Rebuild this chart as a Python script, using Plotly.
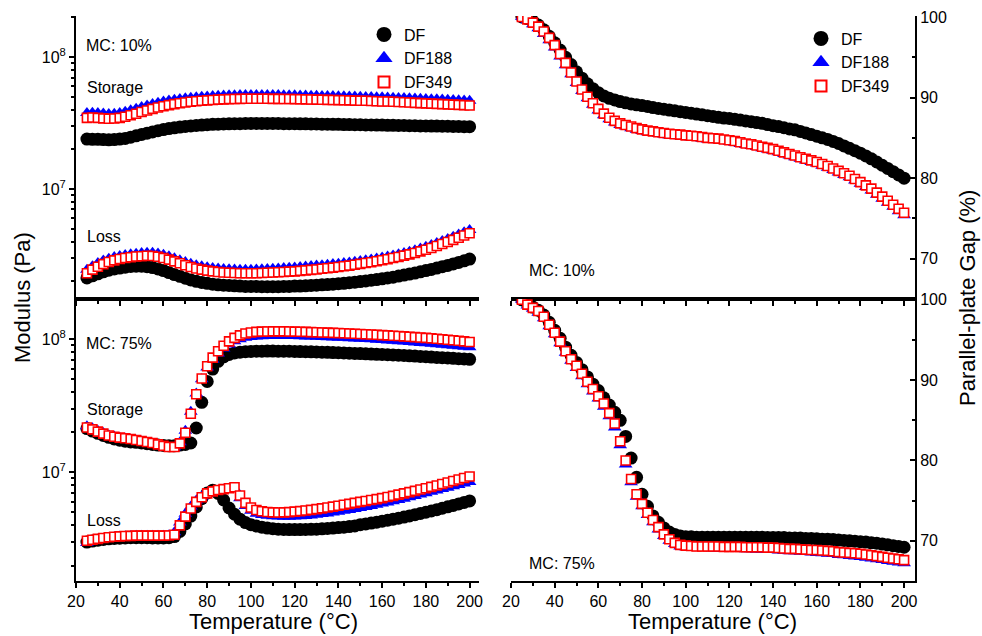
import plotly.graph_objects as go

# ---------------- data ----------------
temperature = [25, 27.5, 30, 32.5, 35, 37.5, 40, 42.5, 45, 47.5,
               50, 52.5, 55, 57.5, 60, 62.5, 65, 67.5, 70, 72.5,
               75, 77.5, 80, 82.5, 85, 87.5, 90, 92.5, 95, 97.5,
               100, 102.5, 105, 107.5, 110, 112.5, 115, 117.5, 120, 122.5,
               125, 127.5, 130, 132.5, 135, 137.5, 140, 142.5, 145, 147.5,
               150, 152.5, 155, 157.5, 160, 162.5, 165, 167.5, 170, 172.5,
               175, 177.5, 180, 182.5, 185, 187.5, 190, 192.5, 195, 197.5,
               200]

series_names = ["DF", "DF188", "DF349"]

# MC 10 %: storage modulus (MPa)
mc10_storage_df = [23.9, 23.8, 23.8, 23.7, 23.6, 23.7, 23.9, 24.2, 24.7, 25.3,
                   25.9, 26.5, 27.1, 27.7, 28.2, 28.7, 29.1, 29.5, 29.8, 30.1,
                   30.3, 30.5, 30.7, 30.9, 31.0, 31.1, 31.2, 31.3, 31.3, 31.4,
                   31.4, 31.4, 31.4, 31.4, 31.4, 31.4, 31.3, 31.3, 31.3, 31.2,
                   31.2, 31.1, 31.1, 31.0, 31.0, 30.9, 30.9, 30.8, 30.8, 30.7,
                   30.7, 30.6, 30.6, 30.5, 30.5, 30.4, 30.4, 30.3, 30.3, 30.2,
                   30.2, 30.1, 30.1, 30.0, 30.0, 29.9, 29.9, 29.8, 29.8, 29.7,
                   29.7]
mc10_storage_df188 = [37.6, 37.8, 37.6, 37.3, 37.1, 37.2, 37.7, 38.5, 39.5, 40.6,
                      41.8, 43.0, 44.1, 45.1, 46.0, 46.8, 47.5, 48.1, 48.7, 49.2,
                      49.6, 50.0, 50.3, 50.6, 50.9, 51.1, 51.3, 51.4, 51.5, 51.6,
                      51.6, 51.6, 51.6, 51.6, 51.5, 51.5, 51.4, 51.4, 51.3, 51.2,
                      51.1, 51.0, 50.9, 50.8, 50.7, 50.6, 50.5, 50.4, 50.3, 50.2,
                      50.0, 49.9, 49.8, 49.6, 49.5, 49.3, 49.2, 49.0, 48.9, 48.7,
                      48.5, 48.4, 48.2, 48.0, 47.8, 47.6, 47.4, 47.2, 47.0, 46.8,
                      46.6]
mc10_storage_df349 = [34.6, 34.8, 34.6, 34.3, 34.1, 34.2, 34.6, 35.3, 36.2, 37.2,
                      38.3, 39.4, 40.5, 41.5, 42.4, 43.2, 44.0, 44.7, 45.3, 45.8,
                      46.3, 46.7, 47.0, 47.3, 47.6, 47.8, 48.0, 48.1, 48.2, 48.3,
                      48.3, 48.3, 48.3, 48.3, 48.2, 48.2, 48.1, 48.1, 48.0, 47.9,
                      47.8, 47.7, 47.6, 47.5, 47.4, 47.3, 47.2, 47.1, 47.0, 46.8,
                      46.7, 46.6, 46.4, 46.3, 46.1, 46.0, 45.8, 45.6, 45.4, 45.2,
                      45.0, 44.8, 44.6, 44.4, 44.2, 44.0, 43.8, 43.6, 43.4, 43.2,
                      43.0]

# MC 10 %: loss modulus (MPa)
mc10_loss_df = [2.12, 2.20, 2.28, 2.36, 2.43, 2.48, 2.52, 2.56, 2.59, 2.60,
                2.60, 2.58, 2.54, 2.48, 2.41, 2.33, 2.25, 2.18, 2.11, 2.05,
                2.00, 1.96, 1.93, 1.90, 1.88, 1.87, 1.86, 1.85, 1.84, 1.83,
                1.83, 1.83, 1.82, 1.82, 1.82, 1.82, 1.83, 1.83, 1.84, 1.84,
                1.85, 1.86, 1.87, 1.88, 1.89, 1.90, 1.92, 1.93, 1.95, 1.97,
                1.99, 2.01, 2.04, 2.06, 2.09, 2.12, 2.15, 2.19, 2.23, 2.27,
                2.31, 2.36, 2.41, 2.46, 2.52, 2.58, 2.64, 2.71, 2.78, 2.86,
                2.95]
mc10_loss_df188 = [2.45, 2.60, 2.75, 2.87, 2.97, 3.05, 3.11, 3.16, 3.20, 3.24,
                   3.27, 3.29, 3.29, 3.25, 3.18, 3.09, 2.99, 2.89, 2.80, 2.72,
                   2.65, 2.60, 2.56, 2.52, 2.50, 2.48, 2.47, 2.46, 2.45, 2.45,
                   2.45, 2.46, 2.47, 2.48, 2.49, 2.50, 2.52, 2.53, 2.55, 2.57,
                   2.59, 2.61, 2.63, 2.65, 2.67, 2.70, 2.72, 2.75, 2.78, 2.81,
                   2.85, 2.89, 2.93, 2.98, 3.03, 3.08, 3.14, 3.20, 3.27, 3.35,
                   3.44, 3.54, 3.65, 3.77, 3.90, 4.04, 4.19, 4.35, 4.52, 4.70,
                   4.90]
mc10_loss_df349 = [2.30, 2.45, 2.58, 2.70, 2.80, 2.88, 2.95, 3.00, 3.04, 3.08,
                   3.10, 3.12, 3.11, 3.07, 3.00, 2.92, 2.83, 2.74, 2.65, 2.57,
                   2.50, 2.45, 2.41, 2.38, 2.35, 2.33, 2.32, 2.31, 2.30, 2.30,
                   2.30, 2.30, 2.31, 2.32, 2.33, 2.34, 2.35, 2.37, 2.38, 2.40,
                   2.42, 2.44, 2.46, 2.49, 2.51, 2.54, 2.57, 2.60, 2.63, 2.67,
                   2.71, 2.75, 2.79, 2.84, 2.89, 2.94, 3.00, 3.06, 3.13, 3.20,
                   3.28, 3.37, 3.47, 3.58, 3.70, 3.83, 3.97, 4.12, 4.28, 4.45,
                   4.63]

# MC 75 %: storage modulus (MPa)
mc75_storage_df = [21.3, 20.4, 19.6, 18.9, 18.3, 17.8, 17.4, 17.1, 16.9, 16.8,
                   16.6, 16.4, 16.2, 16.0, 15.9, 15.8, 15.8, 16.0, 16.2, 16.6,
                   21.5, 33.5, 48.0, 59.5, 68.0, 73.5, 76.5, 78.5, 79.6, 80.3,
                   80.7, 81.0, 81.1, 81.2, 81.2, 81.1, 81.0, 80.9, 80.7, 80.5,
                   80.3, 80.1, 79.9, 79.6, 79.4, 79.1, 78.9, 78.6, 78.3, 78.0,
                   77.7, 77.4, 77.1, 76.8, 76.5, 76.2, 75.9, 75.5, 75.2, 74.8,
                   74.4, 74.0, 73.6, 73.2, 72.8, 72.4, 72.0, 71.6, 71.2, 70.8,
                   70.4]
mc75_storage_df188 = [22.2, 21.4, 20.5, 19.7, 19.0, 18.6, 18.2, 17.9, 17.6, 17.3,
                      17.0, 16.7, 16.4, 16.0, 15.6, 15.3, 15.4, 16.8, 20.5, 28.5,
                      39.0, 50.0, 61.0, 70.0, 78.0, 85.0, 91.0, 96.0, 99.5, 102.0,
                      103.5, 104.5, 105.0, 105.3, 105.5, 105.5, 105.5, 105.3, 105.1, 104.9,
                      104.6, 104.3, 104.0, 103.6, 103.2, 102.8, 102.4, 102.0, 101.5, 101.0,
                      100.5, 100.0, 99.4, 98.8, 98.2, 97.6, 97.0, 96.3, 95.6, 94.9,
                      94.2, 93.5, 92.8, 92.1, 91.4, 90.6, 89.8, 89.0, 88.2, 87.4,
                      86.6]
mc75_storage_df349 = [21.7, 21.0, 20.2, 19.5, 18.9, 18.5, 18.2, 18.0, 17.8, 17.5,
                      17.2, 16.9, 16.6, 16.2, 15.8, 15.5, 15.5, 16.5, 19.8, 27.5,
                      38.5, 50.5, 62.5, 72.5, 81.0, 89.0, 96.0, 102.0, 106.5, 110.0,
                      112.0, 113.0, 113.5, 113.8, 114.0, 114.0, 114.0, 113.8, 113.6, 113.3,
                      113.0, 112.7, 112.4, 112.0, 111.6, 111.2, 110.8, 110.4, 110.0, 109.5,
                      109.0, 108.5, 108.0, 107.5, 107.0, 106.4, 105.8, 105.2, 104.6, 104.0,
                      103.3, 102.6, 101.9, 101.2, 100.5, 99.6, 98.7, 97.8, 96.9, 96.0,
                      95.0]

# MC 75 %: loss modulus (MPa)
mc75_loss_df = [3.00, 3.05, 3.10, 3.14, 3.17, 3.19, 3.21, 3.22, 3.23, 3.23,
                3.23, 3.23, 3.22, 3.22, 3.22, 3.23, 3.30, 3.60, 4.10, 4.70,
                5.50, 6.35, 7.00, 7.35, 6.95, 6.20, 5.40, 4.85, 4.45, 4.20,
                4.05, 3.95, 3.88, 3.82, 3.78, 3.75, 3.73, 3.72, 3.72, 3.72,
                3.73, 3.74, 3.75, 3.77, 3.79, 3.82, 3.85, 3.88, 3.92, 3.96,
                4.05, 4.10, 4.16, 4.23, 4.30, 4.37, 4.45, 4.53, 4.62, 4.71,
                4.81, 4.91, 5.02, 5.13, 5.25, 5.38, 5.51, 5.65, 5.80, 5.95,
                6.10]
mc75_loss_df188 = [2.95, 3.05, 3.12, 3.18, 3.23, 3.27, 3.30, 3.32, 3.33, 3.34,
                   3.34, 3.34, 3.34, 3.34, 3.35, 3.38, 3.55, 4.20, 4.90, 5.55,
                   6.15, 6.60, 6.95, 7.15, 7.30, 7.42, 7.55, 7.60, 6.40, 5.60,
                   5.15, 4.90, 4.78, 4.72, 4.68, 4.66, 4.65, 4.65, 4.66, 4.68,
                   4.71, 4.75, 4.80, 4.86, 4.92, 4.99, 5.06, 5.14, 5.22, 5.31,
                   5.40, 5.50, 5.60, 5.71, 5.83, 5.95, 6.08, 6.21, 6.35, 6.50,
                   6.65, 6.81, 6.97, 7.14, 7.31, 7.49, 7.67, 7.86, 8.05, 8.25,
                   8.45]
mc75_loss_df349 = [3.07, 3.12, 3.17, 3.22, 3.26, 3.29, 3.31, 3.33, 3.34, 3.35,
                   3.35, 3.35, 3.35, 3.35, 3.35, 3.36, 3.40, 4.00, 4.65, 5.35,
                   6.00, 6.50, 6.95, 7.20, 7.38, 7.48, 7.60, 7.72, 6.70, 5.90,
                   5.45, 5.22, 5.10, 5.04, 5.01, 5.00, 5.01, 5.03, 5.07, 5.12,
                   5.17, 5.23, 5.30, 5.37, 5.45, 5.53, 5.62, 5.71, 5.80, 5.90,
                   6.00, 6.10, 6.20, 6.30, 6.41, 6.53, 6.66, 6.80, 6.95, 7.10,
                   7.26, 7.43, 7.60, 7.78, 7.97, 8.17, 8.38, 8.60, 8.83, 9.07,
                   9.30]

# Parallel-plate gap (%)
mc10_gap_df = [100.0, 99.8, 99.5, 99.0, 98.4, 97.6, 96.8, 95.9, 95.0, 94.1,
               93.2, 92.4, 91.7, 91.1, 90.6, 90.2, 89.9, 89.7, 89.5, 89.35,
               89.2, 89.1, 89.0, 88.9, 88.75, 88.65, 88.55, 88.45, 88.35, 88.25,
               88.15, 88.05, 87.95, 87.85, 87.75, 87.65, 87.55, 87.45, 87.4, 87.3,
               87.2, 87.1, 87.0, 86.9, 86.8, 86.65, 86.5, 86.4, 86.25, 86.1,
               86.0, 85.8, 85.6, 85.4, 85.2, 85.0, 84.8, 84.55, 84.3, 84.0,
               83.7, 83.4, 83.1, 82.75, 82.4, 82.0, 81.6, 81.2, 80.8, 80.4,
               80.0]
mc10_gap_df188 = [100.0, 99.6, 99.1, 98.6, 97.9, 97.1, 96.2, 95.1, 94.0, 92.9,
                  91.8, 90.8, 89.9, 89.1, 88.4, 87.8, 87.3, 86.9, 86.6, 86.4,
                  86.2, 86.0, 85.85, 85.7, 85.6, 85.5, 85.4, 85.3, 85.25, 85.2,
                  85.1, 85.05, 85.0, 84.9, 84.8, 84.75, 84.7, 84.6, 84.5, 84.4,
                  84.25, 84.1, 84.0, 83.85, 83.7, 83.55, 83.4, 83.2, 83.0, 82.8,
                  82.6, 82.4, 82.2, 82.0, 81.8, 81.55, 81.3, 81.0, 80.7, 80.4,
                  80.1, 79.7, 79.3, 78.9, 78.45, 77.95, 77.45, 76.95, 76.45, 75.9,
                  75.4]
mc10_gap_df349 = [100.0, 99.7, 99.3, 98.8, 98.2, 97.4, 96.5, 95.4, 94.3, 93.1,
                  92.0, 91.0, 90.1, 89.3, 88.6, 88.0, 87.5, 87.1, 86.8, 86.6,
                  86.4, 86.2, 86.05, 85.9, 85.8, 85.7, 85.6, 85.5, 85.45, 85.4,
                  85.3, 85.25, 85.2, 85.1, 85.0, 84.95, 84.9, 84.8, 84.7, 84.6,
                  84.45, 84.3, 84.2, 84.05, 83.9, 83.75, 83.6, 83.4, 83.2, 83.0,
                  82.8, 82.6, 82.4, 82.2, 82.0, 81.75, 81.5, 81.2, 80.9, 80.6,
                  80.3, 79.9, 79.5, 79.1, 78.7, 78.2, 77.7, 77.2, 76.7, 76.2,
                  75.7]
mc75_gap_df = [100.0, 99.5, 99.1, 98.7, 98.1, 97.2, 96.2, 95.2, 94.1, 93.1,
               92.2, 91.3, 90.4, 89.5, 88.7, 87.8, 86.9, 86.0, 85.0, 83.0,
               80.3, 77.9, 75.8, 74.3, 73.1, 72.3, 71.6, 71.1, 70.8, 70.6,
               70.5, 70.5, 70.45, 70.45, 70.45, 70.45, 70.45, 70.45, 70.45, 70.45,
               70.45, 70.45, 70.45, 70.45, 70.45, 70.4, 70.4, 70.4, 70.4, 70.35,
               70.35, 70.35, 70.3, 70.3, 70.25, 70.2, 70.2, 70.15, 70.1, 70.05,
               70.0, 69.95, 69.9, 69.85, 69.75, 69.7, 69.6, 69.5, 69.4, 69.3,
               69.2]
mc75_gap_df188 = [100.0, 99.3, 98.9, 98.4, 97.7, 96.7, 95.7, 94.6, 93.4, 92.4,
                  91.5, 90.5, 89.5, 88.6, 87.7, 86.7, 85.5, 84.1, 81.9, 79.5,
                  77.3, 75.5, 74.3, 73.2, 72.3, 71.4, 70.6, 70.0, 69.6, 69.3,
                  69.2, 69.15, 69.1, 69.1, 69.1, 69.05, 69.05, 69.0, 69.0, 69.0,
                  69.0, 68.95, 68.95, 68.9, 68.9, 68.85, 68.85, 68.8, 68.75, 68.7,
                  68.7, 68.65, 68.6, 68.55, 68.5, 68.45, 68.4, 68.35, 68.25, 68.2,
                  68.1, 68.05, 68.0, 67.9, 67.8, 67.7, 67.6, 67.5, 67.4, 67.3,
                  67.2]
mc75_gap_df349 = [100.0, 99.4, 99.0, 98.6, 97.9, 96.9, 95.9, 94.8, 93.6, 92.6,
                  91.8, 90.8, 89.8, 88.9, 88.0, 87.1, 85.9, 84.6, 82.4, 80.0,
                  77.7, 75.8, 74.6, 73.5, 72.6, 71.7, 70.8, 70.2, 69.75, 69.5,
                  69.4, 69.35, 69.3, 69.3, 69.3, 69.3, 69.3, 69.25, 69.25, 69.25,
                  69.25, 69.2, 69.2, 69.2, 69.2, 69.15, 69.15, 69.1, 69.05, 69.0,
                  69.0, 68.95, 68.9, 68.85, 68.85, 68.8, 68.75, 68.7, 68.6, 68.55,
                  68.5, 68.45, 68.4, 68.3, 68.2, 68.1, 68.0, 67.9, 67.8, 67.7,
                  67.6]

y_ticks_log = [1e7, 1e8]
y_ticktext_log = ["10<sup>7</sup>", "10<sup>8</sup>"]
MPA = 1e6

# ---------------- styles ----------------
FONT = "Liberation Sans, Arial, sans-serif"
styles = {
    "DF": dict(symbol="circle", size=13, color="black", line=dict(width=0)),
    "DF188": dict(symbol="triangle-up", size=12, color="#0000ff", line=dict(width=0)),
    "DF349": dict(symbol="square", size=9, color="white", line=dict(color="#ff0000", width=1.6)),
}
legend_styles = {
    "DF": dict(symbol="circle", size=15, color="black", line=dict(width=0)),
    "DF188": dict(symbol="triangle-up", size=15, color="#0000ff", line=dict(width=0)),
    "DF349": dict(symbol="square", size=11, color="white", line=dict(color="#ff0000", width=2)),
}

W, H = 982, 636
def px_x(p):
    return p / W
def px_y(p):
    return 1 - p / H

fig = go.Figure()

def add(xs, ys, name, xa, ya):
    fig.add_trace(go.Scatter(
        x=xs, y=ys, mode="markers", name=name,
        marker=styles[name], xaxis=xa, yaxis=ya,
        showlegend=False, hoverinfo="skip"))

def add_legend_entry(name, xa, ya, legend):
    fig.add_trace(go.Scatter(
        x=[None], y=[None], mode="markers", name=name,
        marker=legend_styles[name], xaxis=xa, yaxis=ya,
        showlegend=True, legend=legend, hoverinfo="skip"))

# top-left: MC 10% modulus
for nm, st, ls in [("DF", mc10_storage_df, mc10_loss_df),
                   ("DF188", mc10_storage_df188, mc10_loss_df188),
                   ("DF349", mc10_storage_df349, mc10_loss_df349)]:
    add(temperature, [v * MPA for v in ls], nm, "x", "y")
    add(temperature, [v * MPA for v in st], nm, "x", "y")

# bottom-left: MC 75% modulus
for nm, st, ls in [("DF", mc75_storage_df, mc75_loss_df),
                   ("DF188", mc75_storage_df188, mc75_loss_df188),
                   ("DF349", mc75_storage_df349, mc75_loss_df349)]:
    add(temperature, [v * MPA for v in ls], nm, "x3", "y3")
    add(temperature, [v * MPA for v in st], nm, "x3", "y3")

# top-right: MC 10% gap
for nm, g in [("DF", mc10_gap_df), ("DF188", mc10_gap_df188), ("DF349", mc10_gap_df349)]:
    add(temperature, g, nm, "x2", "y2")

# bottom-right: MC 75% gap
for nm, g in [("DF", mc75_gap_df), ("DF188", mc75_gap_df188), ("DF349", mc75_gap_df349)]:
    add(temperature, g, nm, "x4", "y4")

for nm in series_names:
    add_legend_entry(nm, "x", "y", "legend")
for nm in series_names:
    add_legend_entry(nm, "x2", "y2", "legend2")

# ---------------- axes ----------------
left_dom = [px_x(76), px_x(479)]
right_dom = [px_x(511), px_x(915)]
top_dom = [px_y(299), px_y(16)]
bot_dom = [px_y(581), px_y(299)]

tickfont = dict(family=FONT, size=16, color="black")
common_x = dict(range=[20, 204.3], tick0=20, dtick=20, showgrid=False, zeroline=False,
                showline=True, linecolor="black", linewidth=2, automargin=False,
                ticks="outside", ticklen=5, tickwidth=1.5, tickcolor="black",
                minor=dict(dtick=10, tick0=20, ticks="outside", ticklen=3, tickwidth=1.5, tickcolor="black"),
                tickfont=tickfont)

minor_log = [k * 10 ** e for e in (6, 7) for k in range(2, 10)] + [2e8]

log_common = dict(type="log", tickvals=y_ticks_log, ticktext=y_ticktext_log,
                  showgrid=False, zeroline=False, showline=True, linecolor="black", linewidth=2,
                  automargin=False, ticks="outside", ticklen=5, tickwidth=1.5, tickcolor="black",
                  tickfont=tickfont,
                  minor=dict(tickvals=minor_log, ticks="outside", ticklen=3, tickwidth=1.5,
                             tickcolor="black", showgrid=False))
gap_common = dict(side="right", tick0=70, dtick=10, showgrid=False, zeroline=False,
                  showline=True, linecolor="black", linewidth=2, automargin=False,
                  ticks="inside", ticklen=5, tickwidth=1.5, tickcolor="black", tickfont=tickfont,
                  minor=dict(dtick=5, tick0=70, ticks="inside", ticklen=3, tickwidth=1.5,
                             tickcolor="black"))

fig.update_layout(
    template="none",
    width=W, height=H, autosize=False,
    margin=dict(l=0, r=0, t=0, b=0, pad=0),
    paper_bgcolor="white", plot_bgcolor="rgba(0,0,0,0)",
    font=dict(family=FONT, color="black"),
    xaxis=dict(domain=left_dom, anchor="y", showticklabels=False, **common_x),
    xaxis3=dict(domain=left_dom, anchor="y3", showticklabels=True, mirror=True, **common_x),
    xaxis2=dict(domain=right_dom, anchor="y2", showticklabels=False,
                **{**common_x, "range": [20, 205]}),
    xaxis4=dict(domain=right_dom, anchor="y4", showticklabels=True, mirror=True,
                **{**common_x, "range": [20, 205]}),
    yaxis=dict(domain=top_dom, anchor="x", range=[6.167, 8.311], **log_common),
    yaxis3=dict(domain=bot_dom, anchor="x3", range=[6.185, 8.30], **log_common),
    yaxis2=dict(domain=top_dom, anchor="x2", range=[65, 100.12], **gap_common),
    yaxis4=dict(domain=bot_dom, anchor="x4", range=[65, 100.1], **gap_common),
    legend=dict(x=px_x(364), y=px_y(17.5), xanchor="left", yanchor="top",
                bgcolor="rgba(0,0,0,0)", borderwidth=0,
                font=dict(family=FONT, size=16, color="black"),
                itemsizing="trace", tracegroupgap=0),
    legend2=dict(x=px_x(801), y=px_y(21.5), xanchor="left", yanchor="top",
                 bgcolor="rgba(0,0,0,0)", borderwidth=0,
                 font=dict(family=FONT, size=16, color="black"),
                 itemsizing="trace", tracegroupgap=0),
)

# ---------------- text ----------------
def label(text, x, y, size=16, xanchor="left", angle=0):
    fig.add_annotation(text=text, x=px_x(x), y=px_y(y), xref="paper", yref="paper",
                       xanchor=xanchor, yanchor="middle", showarrow=False, textangle=angle,
                       borderpad=0, font=dict(family=FONT, size=size, color="black"))

label("MC: 10%", 85, 45)
label("Storage", 86, 88)
label("Loss", 86, 237)
label("MC: 75%", 85, 343)
label("Storage", 86, 409)
label("Loss", 86, 520)
label("MC: 10%", 528, 270)
label("MC: 75%", 528, 563)

label("Modulus (Pa)", 22, 298, size=22, xanchor="center", angle=-90)
label("Parallel-plate Gap (%)", 967, 298, size=22, xanchor="center", angle=-90)
label("Temperature (°C)", 273, 621, size=22, xanchor="center")
label("Temperature (°C)", 712, 621, size=22, xanchor="center")

fig.write_html("out.html")
